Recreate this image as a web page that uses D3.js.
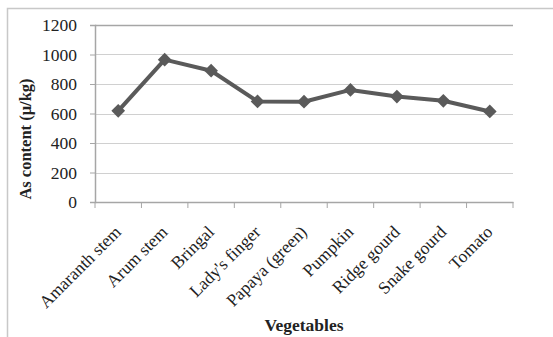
<!DOCTYPE html>
<html>
<head>
<meta charset="utf-8">
<script src="https://cdn.jsdelivr.net/npm/d3@7"></script>
<style>
  body { margin: 0; background: #fff; }
  svg { display: block; font-family: "Liberation Serif", "Times New Roman", serif; }
</style>
</head>
<body>
<div id="chart"></div>
<script>
const vegetables = ["Amaranth stem", "Arum stem", "Bringal", "Lady's finger", "Papaya (green)",
                    "Pumpkin", "Ridge gourd", "Snake gourd", "Tomato"];
const asContent = [618, 965, 890, 682, 680, 760, 715, 686, 614];
const yTicks = [0, 200, 400, 600, 800, 1000, 1200];

const width = 553, height = 337;
const margin = {top: 25, right: 40, bottom: 135, left: 95};
const serif = "'Liberation Serif', 'Times New Roman', serif";

const svg = d3.select("#chart").append("svg")
  .attr("width", width)
  .attr("height", height);

// frame of the original chart (only left and top visible)
svg.append("path")
  .attr("d", `M7.5,${height} V8.5 H${width}`)
  .attr("fill", "none")
  .attr("stroke", "#c8c8c8")
  .attr("stroke-width", 1.5);

const plot = svg.append("g")
  .attr("transform", `translate(${margin.left},${margin.top})`);

const w = 513 - margin.left;
const h = 202 - margin.top;

const x = d3.scaleBand().domain(vegetables).range([0, w]);
const y = d3.scaleLinear().domain([0, 1200]).range([h, 0]);

// gridlines
plot.selectAll(".grid")
  .data(yTicks.slice(1))
  .enter().append("line")
  .attr("class", "grid")
  .attr("x1", 0).attr("x2", w)
  .attr("y1", d => Math.round(y(d)) + 0.5)
  .attr("y2", d => Math.round(y(d)) + 0.5)
  .attr("stroke", d => d === 1200 ? "#a6a6a6" : "#d0d0d0")
  .attr("stroke-width", d => d === 1200 ? 1.5 : 1);

// y axis
const yAxis = d3.axisLeft(y).tickValues(yTicks).tickFormat(d3.format("d")).tickSize(5).tickPadding(13);
const gy = plot.append("g").call(yAxis).attr("font-family", serif);
gy.select(".domain").attr("stroke", "#a6a6a6").attr("stroke-width", 1.5);
gy.selectAll(".tick line").attr("stroke", "#a6a6a6");
gy.selectAll("text").attr("font-size", 17.5).attr("fill", "#222");

// x axis
const xAxis = d3.axisBottom(x).tickSize(0).tickFormat("");
const gx = plot.append("g").attr("transform", `translate(0,${h})`).call(xAxis)
  .attr("font-family", serif);
gx.select(".domain").attr("stroke", "#a6a6a6").attr("stroke-width", 1.5);

// boundary ticks between categories
const bounds = vegetables.map(d => x(d)).concat([w]);
gx.selectAll(".btick").data(bounds).enter().append("line")
  .attr("x1", d => d).attr("x2", d => d)
  .attr("y1", 0).attr("y2", 6)
  .attr("stroke", "#a6a6a6");

gx.selectAll(".xlabel").data(vegetables).enter().append("text")
  .attr("transform", d => `translate(${x(d) + x.bandwidth() / 2 + 4},${31}) rotate(-45)`)
  .attr("text-anchor", "end")
  .attr("font-size", 17.5)
  .attr("fill", "#222")
  .text(d => d);

// line
const line = d3.line()
  .x((d, i) => x(vegetables[i]) + x.bandwidth() / 2)
  .y(d => y(d));

plot.append("path")
  .datum(asContent)
  .attr("d", line)
  .attr("fill", "none")
  .attr("stroke", "#5a5a5a")
  .attr("stroke-width", 4)
  .attr("stroke-linejoin", "round");

plot.selectAll(".pt")
  .data(asContent)
  .enter().append("path")
  .attr("class", "pt")
  .attr("d", d3.symbol(d3.symbolDiamond2, 120))
  .attr("transform", (d, i) => `translate(${x(vegetables[i]) + x.bandwidth() / 2},${y(d)})`)
  .attr("fill", "#5a5a5a");

// axis titles
svg.append("text")
  .attr("transform", `translate(31,139) rotate(-90)`)
  .attr("text-anchor", "middle")
  .attr("font-size", 16.5)
  .attr("font-weight", "bold")
  .attr("fill", "#222")
  .text("As content (μ/kg)");

svg.append("text")
  .attr("x", 304)
  .attr("y", 331)
  .attr("text-anchor", "middle")
  .attr("font-size", 17.5)
  .attr("font-weight", "bold")
  .attr("fill", "#222")
  .text("Vegetables");
</script>
</body>
</html>
